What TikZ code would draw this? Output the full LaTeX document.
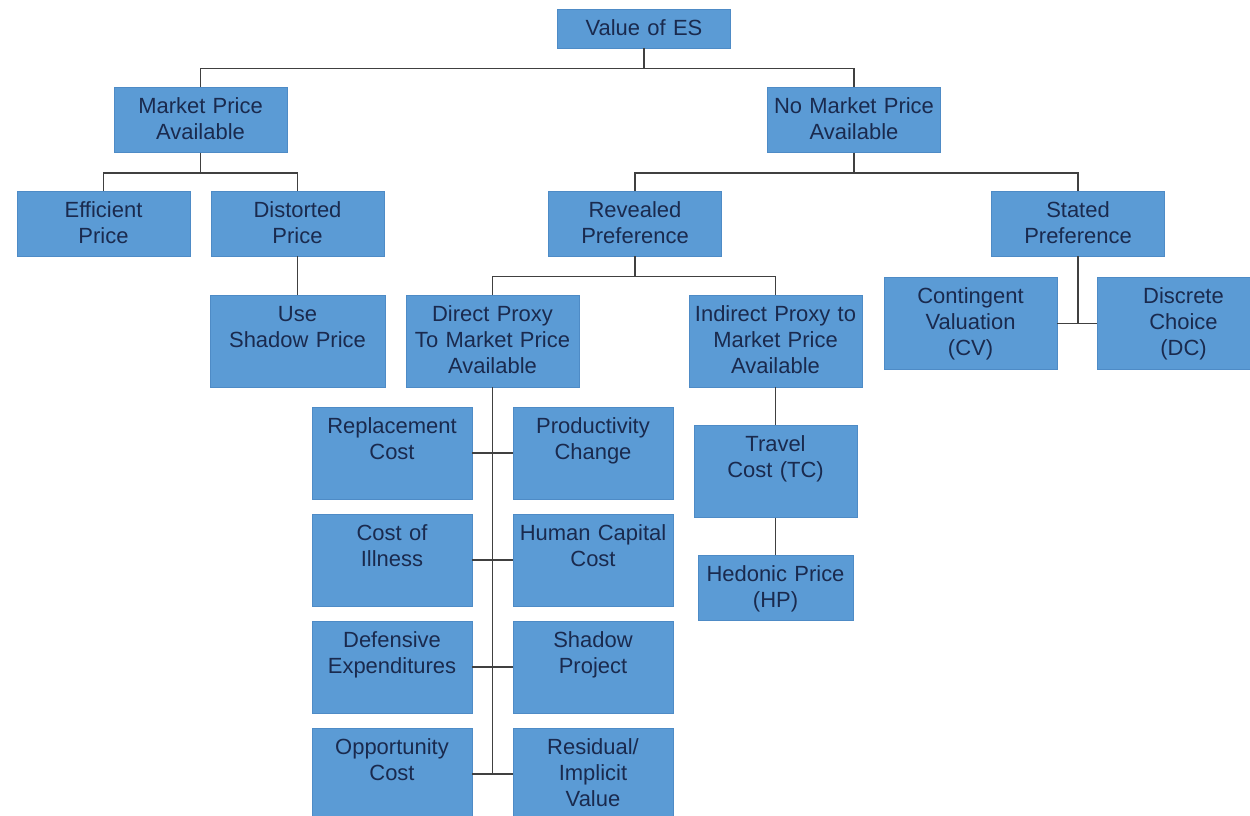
\documentclass[tikz,border=0pt]{standalone}
\usepackage{fontspec}
\setmainfont{Liberation Sans}
\usepackage{tikz}
\definecolor{boxfill}{HTML}{5B9BD5}
\definecolor{boxline}{HTML}{4E8BC6}
\definecolor{boxtext}{HTML}{1A2A4E}
\definecolor{linkgray}{HTML}{404040}
\tikzstyle{method} = [rectangle, draw=boxline, fill=boxfill, text=boxtext, align=center, text width=3.46cm, inner xsep=0pt, inner ysep=4.8pt, text height=10pt, font=\fontsize{12.5}{14.8}\selectfont]
\tikzstyle{shortbox} = [text depth=2.6pt]
\tikzstyle{midbox} = [text depth=17.4pt]
\tikzstyle{tallbox} = [text depth=32.7pt]
\tikzstyle{colbox} = [text width=3.2cm]
\tikzstyle{link} = [draw=linkgray, line width=0.8pt]

\begin{document}
\begin{tikzpicture}[node distance=2.07cm]

\useasboundingbox (0,0) rectangle (25,-16.3);

\node (es) [method, shortbox] at (12.88,-0.57) {Value of ES};
\node (mpa) [method, midbox, below of=es, xshift=-8.87cm, yshift=0.24cm] {Market Price\\Available};
\node (nmpa) [method, midbox, below of=es, xshift=4.2cm, yshift=0.24cm] {No Market Price\\Available};
\node (ep) [method, midbox, below of=mpa, xshift=-1.94cm] {Efficient\\Price};
\node (dp) [method, midbox, below of=mpa, xshift=1.94cm] {Distorted\\Price};
\node (usp) [method, tallbox, text width=3.5cm, below of=dp, yshift=-0.28cm] {Use\\Shadow Price};
\node (rp) [method, midbox, below of=nmpa, xshift=-4.38cm] {Revealed\\Preference};
\node (sp) [method, midbox, below of=nmpa, xshift=4.48cm] {Stated\\Preference};
\node (dpx) [method, tallbox, below of=rp, xshift=-2.85cm, yshift=-0.28cm] {Direct Proxy\\To Market Price\\Available};
\node (ipx) [method, tallbox, below of=rp, xshift=2.81cm, yshift=-0.28cm] {Indirect Proxy to\\Market Price\\Available};
\node (cv) [method, tallbox, below of=sp, xshift=-2.15cm, yshift=0.07cm] {Contingent\\Valuation\\(CV)};
\node (dc) [method, tallbox, below of=sp, xshift=2.11cm, yshift=0.07cm] {Discrete\\Choice\\(DC)};
\node (tc) [method, tallbox, text width=3.26cm, below of=ipx, yshift=-0.54cm] {Travel\\Cost (TC)};
\node (hp) [method, midbox, text width=3.1cm, below of=tc, yshift=-0.25cm] {Hedonic Price\\(HP)};

% direct proxy methods, two columns
\node (rc) [method, tallbox, colbox, below of=dpx, xshift=-2.01cm, yshift=-0.17cm] {Replacement\\Cost};
\node (pc) [method, tallbox, colbox, below of=dpx, xshift=2.01cm, yshift=-0.17cm] {Productivity\\Change};
\node (ci) [method, tallbox, colbox, below of=rc, yshift=-0.07cm] {Cost of\\Illness};
\node (hc) [method, tallbox, colbox, below of=pc, yshift=-0.07cm] {Human Capital\\Cost};
\node (de) [method, tallbox, colbox, below of=ci, yshift=-0.07cm] {Defensive\\Expenditures};
\node (spj) [method, tallbox, colbox, below of=hc, yshift=-0.07cm] {Shadow\\Project};
\node (oc) [method, tallbox, colbox, below of=de, yshift=-0.07cm] {Opportunity\\Cost};
\node (riv) [method, tallbox, colbox, below of=spj, yshift=-0.07cm] {Residual/\\Implicit\\Value};

\draw [link] (es.south) -- ++(0,-0.4) -| (mpa.north);
\draw [link] (es.south) -- ++(0,-0.4) -| (nmpa.north);
\draw [link] (mpa.south) -- ++(0,-0.4) -| (ep.north);
\draw [link] (mpa.south) -- ++(0,-0.4) -| (dp.north);
\draw [link] (dp) -- (usp);
\draw [link] (nmpa.south) -- ++(0,-0.4) -| (rp.north);
\draw [link] (nmpa.south) -- ++(0,-0.4) -| (sp.north);
\draw [link] (rp.south) -- ++(0,-0.4) -| (dpx.north);
\draw [link] (rp.south) -- ++(0,-0.4) -| (ipx.north);
\draw [link] (sp.south) -- (sp.south |- cv.east);
\draw [link] (cv) -- (dc);
\draw [link] (ipx) -- (tc);
\draw [link] (tc) -- (hp);
\draw [link] (dpx.south) -- (dpx.south |- oc.east);
\draw [link] (rc) -- (pc);
\draw [link] (ci) -- (hc);
\draw [link] (de) -- (spj);
\draw [link] (oc) -- (riv);

\end{tikzpicture}
\end{document}
